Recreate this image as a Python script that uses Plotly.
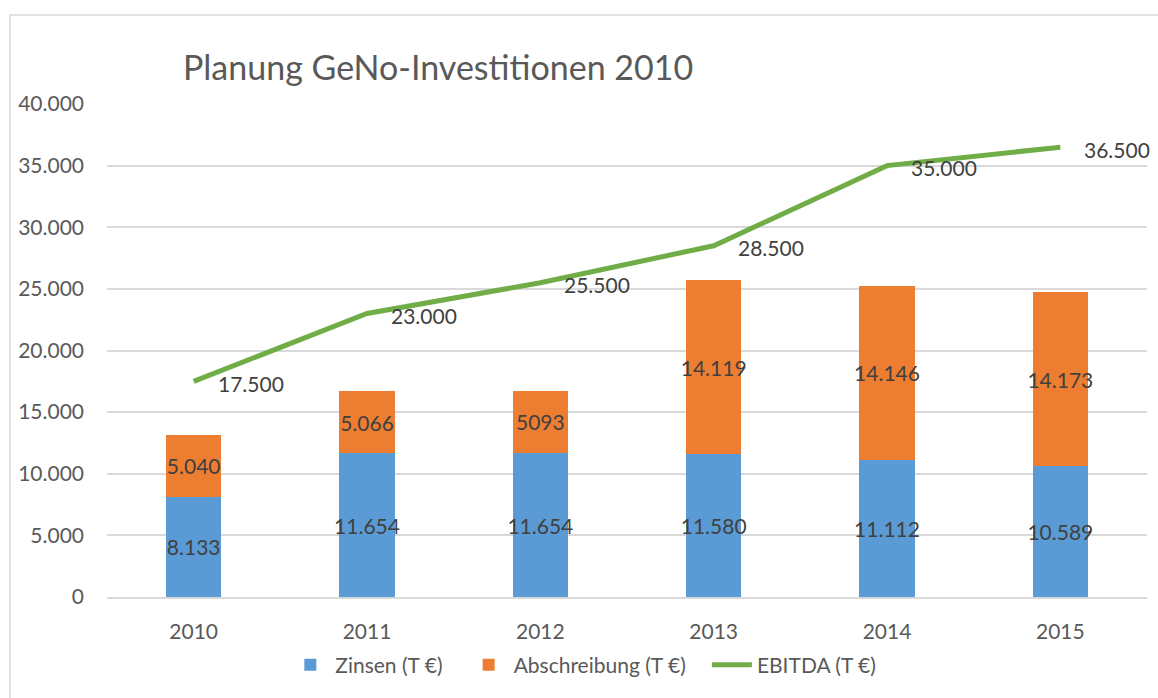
import plotly.graph_objects as go

years = ["2010", "2011", "2012", "2013", "2014", "2015"]
zinsen = [8133, 11654, 11654, 11580, 11112, 10589]
zinsen_labels = ["8.133", "11.654", "11.654", "11.580", "11.112", "10.589"]
abschreibung = [5040, 5066, 5093, 14119, 14146, 14173]
abschreibung_labels = ["5.040", "5.066", "5093", "14.119", "14.146", "14.173"]
ebitda = [17500, 23000, 25500, 28500, 35000, 36500]
ebitda_labels = ["17.500", "23.000", "25.500", "28.500", "35.000", "36.500"]
y_ticks = [0, 5000, 10000, 15000, 20000, 25000, 30000, 35000, 40000]
y_tick_labels = ["0", "5.000", "10.000", "15.000", "20.000", "25.000", "30.000", "35.000", "40.000"]

FONT = "Lato"
fig = go.Figure()
fig.add_trace(go.Bar(
    x=years, y=zinsen, name="Zinsen (T €)\u00a0\u00a0\u00a0", marker=dict(color="#5B9BD5", line=dict(width=0)),
    width=0.32, text=zinsen_labels, textposition="inside", insidetextanchor="middle",
    textangle=0, constraintext="none", textfont=dict(family=FONT, size=21, color="#404040"),
    hoverinfo="skip"))
fig.add_trace(go.Bar(
    x=years, y=abschreibung, name="Abschreibung (T €)\u00a0\u00a0\u00a0", marker=dict(color="#ED7D31", line=dict(width=0)),
    width=0.32, text=abschreibung_labels, textposition="inside", insidetextanchor="middle",
    textangle=0, constraintext="none", textfont=dict(family=FONT, size=21, color="#404040"),
    hoverinfo="skip"))
fig.add_trace(go.Scatter(
    x=years, y=ebitda, name="EBITDA (T €)", mode="lines",
    line=dict(color="#70AD47", width=5), hoverinfo="skip"))

for i, (y, t) in enumerate(zip(ebitda, ebitda_labels)):
    fig.add_annotation(x=i, y=y, xref="x", yref="y", text=t, showarrow=False,
                       xanchor="left", yanchor="middle", xshift=22, yshift=-2,
                       font=dict(family=FONT, size=21, color="#404040"))

fig.add_shape(type="rect", xref="paper", yref="paper", x0=-0.0933, y0=-0.23, x1=1.02, y1=1.1805,
              line=dict(color="#D9D9D9", width=1.5), fillcolor="rgba(0,0,0,0)", layer="below")

fig.update_layout(
    width=1158, height=698,
    margin=dict(l=107, r=11, t=104, b=101),
    paper_bgcolor="white", plot_bgcolor="white",
    barmode="stack",
    separators=",.",
    title=dict(text="Planung GeNo-Investitionen 2010", x=183 / 1158, xanchor="left",
               xref="container", yref="container", y=1 - 68 / 698, yanchor="middle",
               font=dict(family=FONT, size=34, color="#595959")),
    font=dict(family=FONT, color="#595959"),
    xaxis=dict(type="category", range=[-0.5, len(years) - 0.5], showgrid=False, showline=True,
               linecolor="#D9D9D9", linewidth=1.5, ticks="",
               tickfont=dict(family=FONT, size=21, color="#595959"), ticklabelstandoff=15),
    yaxis=dict(range=[0, 40000], tickvals=y_ticks, ticktext=y_tick_labels, showgrid=True,
               gridcolor="#D9D9D9", gridwidth=1.5, zeroline=False, showline=False, ticks="",
               tickfont=dict(family=FONT, size=21, color="#595959"), ticklabelstandoff=22),
    legend=dict(orientation="h", x=0.458, xanchor="center", y=-0.138, yanchor="middle",
                font=dict(family=FONT, size=21, color="#595959"), itemwidth=40,
                bgcolor="rgba(0,0,0,0)", traceorder="normal"),
    showlegend=True,
)
fig.write_html("out.html")
